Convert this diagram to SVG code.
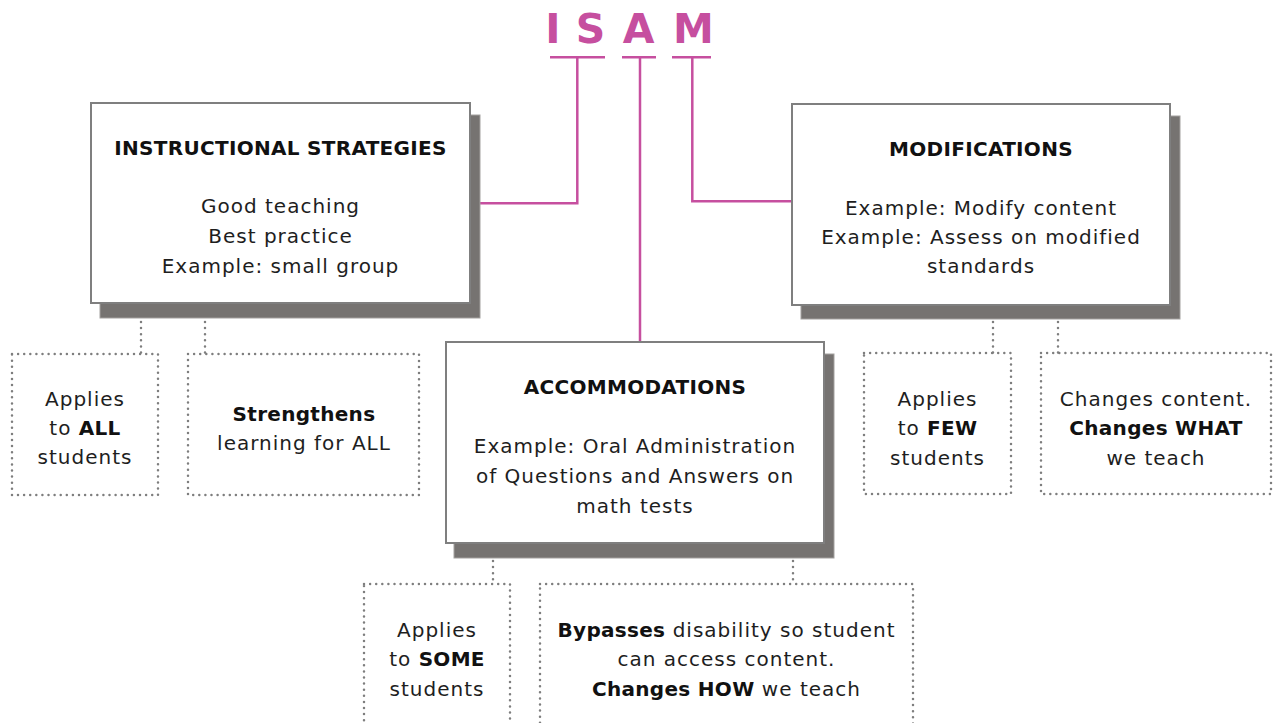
<svg xmlns="http://www.w3.org/2000/svg" width="1277" height="723" viewBox="0 0 1277 723">
<style>
text{font-family:"DejaVu Sans","Noto Sans",sans-serif;fill:#1e1e1e;text-anchor:middle;font-size:20px;letter-spacing:1px}
.t{font-weight:bold;letter-spacing:0.3px;fill:#111}
.b{font-weight:bold;letter-spacing:0.3px;fill:#111}
.box{fill:#fff;stroke:#7f7f7f;stroke-width:2}
.sh{fill:#767371;stroke:#a3a19f;stroke-width:1}
.dot{fill:none;stroke:#7e7e7e;stroke-width:2.5;stroke-linecap:round;stroke-dasharray:0 6.1}
.mg{fill:none;stroke:#c64f9f;stroke-width:2.5}
.isam{font-size:41px;font-weight:bold;fill:#c64f9f;letter-spacing:0}
</style>
<rect width="1277" height="723" fill="#fff"/>
<g id="title">
<text class="isam" x="553" y="43">I</text>
<text class="isam" x="590.5" y="43">S</text>
<text class="isam" x="638.5" y="43">A</text>
<text class="isam" x="693.5" y="43">M</text>
</g>
<g id="connectors">
<path class="mg" d="M550 57.3H605M622 57.3H656M672 57.3H711"/>
<path class="mg" d="M577.3 57.3V203.3H480"/>
<path class="mg" d="M640 57.3V342"/>
<path class="mg" d="M692.3 57.3V201.3H792"/>
<path class="dot" d="M141 322V354M205 322V354"/>
<path class="dot" d="M993 322V353M1058 322V353"/>
<path class="dot" d="M493 561V584M793 561V584"/>
</g>
<g id="instructional">
<rect class="sh" x="100" y="115" width="380" height="203"/>
<rect class="box" x="91" y="103" width="379" height="200"/>
<text class="t" x="280.5" y="155">INSTRUCTIONAL STRATEGIES</text>
<text x="280.5" y="213">Good teaching</text>
<text x="280.5" y="243">Best practice</text>
<text x="280.5" y="273">Example: small group</text>
</g>
<g id="modifications">
<rect class="sh" x="801" y="116" width="379" height="203"/>
<rect class="box" x="792" y="104" width="378" height="201"/>
<text class="t" x="981" y="156">MODIFICATIONS</text>
<text x="981" y="215">Example: Modify content</text>
<text x="981" y="244">Example: Assess on modified</text>
<text x="981" y="273">standards</text>
</g>
<g id="accommodations">
<rect class="sh" x="454" y="354" width="380" height="204"/>
<rect class="box" x="446" y="342" width="378" height="201"/>
<text class="t" x="635" y="394">ACCOMMODATIONS</text>
<text x="635" y="453">Example: Oral Administration</text>
<text x="635" y="483">of Questions and Answers on</text>
<text x="635" y="513">math tests</text>
</g>
<g id="all-students">
<rect class="dot" x="12" y="354" width="146" height="141"/>
<text x="85" y="406">Applies</text>
<text x="85" y="435">to <tspan class="b">ALL</tspan></text>
<text x="85" y="464">students</text>
</g>
<g id="strengthens">
<rect class="dot" x="188" y="354" width="231" height="141"/>
<text class="b" x="304" y="421">Strengthens</text>
<text x="304" y="450">learning for ALL</text>
</g>
<g id="few-students">
<rect class="dot" x="864" y="353" width="147" height="141"/>
<text x="937.5" y="406">Applies</text>
<text x="937.5" y="435">to <tspan class="b">FEW</tspan></text>
<text x="937.5" y="465">students</text>
</g>
<g id="changes-what">
<rect class="dot" x="1041" y="353" width="230" height="141"/>
<text x="1156" y="406">Changes content.</text>
<text class="b" x="1156" y="435">Changes WHAT</text>
<text x="1156" y="465">we teach</text>
</g>
<g id="some-students">
<rect class="dot" x="364" y="584" width="146" height="160"/>
<text x="437" y="637">Applies</text>
<text x="437" y="666">to <tspan class="b">SOME</tspan></text>
<text x="437" y="696">students</text>
</g>
<g id="bypasses">
<rect class="dot" x="540" y="584" width="373" height="160"/>
<text x="726.5" y="637"><tspan class="b">Bypasses</tspan> disability so student</text>
<text x="726.5" y="666">can access content.</text>
<text x="726.5" y="696"><tspan class="b">Changes HOW</tspan> we teach</text>
</g>
</svg>
